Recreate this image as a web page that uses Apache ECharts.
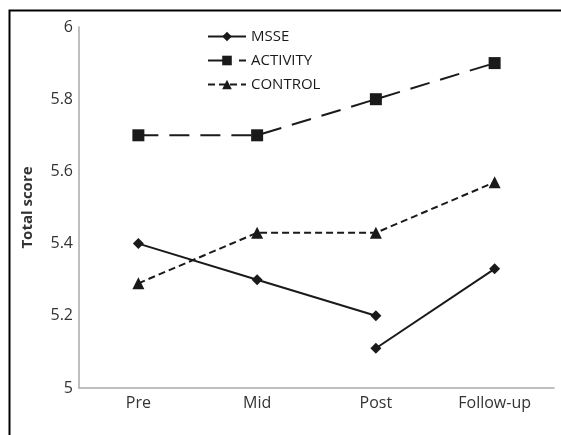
<!DOCTYPE html>
<html>
<head>
<meta charset="utf-8">
<script src="https://cdn.jsdelivr.net/npm/echarts@6/dist/echarts.min.js"></script>
<style>html,body{margin:0;padding:0;background:#fff}#c{width:561px;height:435px}</style>
</head>
<body>
<div id="c"></div>
<script>
const categories = ['Pre', 'Mid', 'Post', 'Follow-up'];
const msseFirst = [5.4, 5.3, 5.2, null];
const msseSecond = [null, null, 5.11, 5.33];
const activity = [5.7, 5.7, 5.8, 5.9];
const control = [5.29, 5.43, 5.43, 5.57];
const yTicks = { min: 5, max: 6, interval: 0.2 };

const ink = '#1a1a1a';
const font = 'Open Sans';
const chart = echarts.init(document.getElementById('c'), null, { renderer: 'canvas' });
chart.setOption({
  animation: false,
  backgroundColor: '#fff',
  textStyle: { fontFamily: font },
  graphic: [{
    type: 'rect', left: 7, top: 8, z: 100,
    shape: { width: 620, height: 500 },
    style: { fill: 'none', stroke: '#000', lineWidth: 2 }
  }],
  legend: {
    orient: 'vertical', left: 207, top: 29, padding: 0,
    itemWidth: 38, itemHeight: 12, itemGap: 9,
    textStyle: { fontFamily: font, fontSize: 15, color: '#1a1a1a' },
    data: ['MSSE', 'ACTIVITY', 'CONTROL']
  },
  grid: { left: 79, right: 7, top: 27, bottom: 47 },
  xAxis: {
    type: 'category', data: categories, boundaryGap: true,
    axisLine: { lineStyle: { color: '#aaa', width: 1.5 } },
    axisTick: { show: false },
    axisLabel: { color: '#333', fontSize: 16, margin: 7, fontFamily: font }
  },
  yAxis: {
    type: 'value', min: yTicks.min, max: yTicks.max, interval: yTicks.interval,
    name: 'Total score', nameLocation: 'middle', nameGap: 44, nameRotate: 90,
    nameTextStyle: { color: '#333', fontSize: 15, fontWeight: 'bold', fontFamily: font },
    axisLine: { show: true, lineStyle: { color: '#aaa', width: 1.5 } },
    axisTick: { show: false },
    splitLine: { show: false },
    axisLabel: { color: '#333', fontSize: 16, margin: 6, fontFamily: font,
      formatter: v => String(Math.round(v * 10) / 10) }
  },
  series: [
    { name: 'MSSE', type: 'line', data: msseFirst, connectNulls: false,
      symbol: 'diamond', symbolSize: 11, showAllSymbol: true,
      lineStyle: { color: ink, width: 2 }, itemStyle: { color: ink } },
    { name: 'MSSE', type: 'line', data: msseSecond, connectNulls: false,
      symbol: 'diamond', symbolSize: 11, showAllSymbol: true,
      lineStyle: { color: ink, width: 2 }, itemStyle: { color: ink } },
    { name: 'ACTIVITY', type: 'line', data: activity,
      symbol: 'rect', symbolSize: 12,
      lineStyle: { color: ink, width: 2, type: [20, 11] }, itemStyle: { color: ink } },
    { name: 'CONTROL', type: 'line', data: control,
      symbol: 'triangle', symbolSize: 12,
      lineStyle: { color: ink, width: 2, type: [7, 4] }, itemStyle: { color: ink } }
  ]
});
</script>
</body>
</html>
